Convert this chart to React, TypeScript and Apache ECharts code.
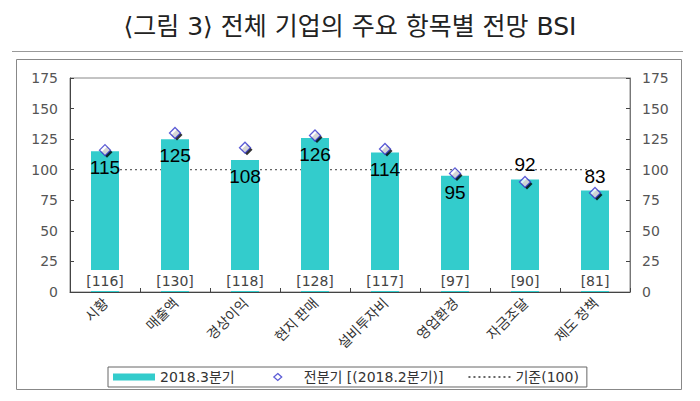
import React, { useEffect, useRef } from "react";
import * as echarts from "echarts";

const categories = ["시황", "매출액", "경상이익", "현지 판매", "설비투자비", "영업환경", "자금조달", "제도 정책"];
const currentQuarter = [115, 125, 108, 126, 114, 95, 92, 83];
const previousQuarter = [116, 130, 118, 128, 117, 97, 90, 81];
const baseline = [100, 100, 100, 100, 100, 100, 100, 100];
const valueLabelPlacement = ["insideTop", "insideTop", "insideTop", "insideTop", "insideTop", "insideTop", "top", "top"];
const yMin = 0;
const yMax = 175;
const yInterval = 25;

const seriesNames = ["2018.3분기", "전분기 [(2018.2분기)]", "기준(100)"];
const titleText = "⟨그림 3⟩ 전체 기업의 주요 항목별 전망 BSI";

const LATIN = "DejaVu Sans, Noto Sans CJK KR, sans-serif";
const CJK = "Noto Sans CJK KR, DejaVu Sans, sans-serif";

// legend icon: small diamond centred in a 42x7 slot (the moveTo points fix the slot box)
const legendDiamond = "path://M0,0 M42,7 M21,-0.5 L25.5,3.5 L21,7.5 L16.5,3.5 Z";

export default function App() {
  const ref = useRef<HTMLDivElement>(null);
  useEffect(() => {
    if (!ref.current) return;
    const chart = echarts.init(ref.current, null, { renderer: "svg" });
    const yAxisCommon = (position: "left" | "right") => ({
      type: "value",
      position,
      min: yMin,
      max: yMax,
      interval: yInterval,
      splitLine: { show: false },
      axisLine: { show: true, lineStyle: { color: position === "left" ? "#444" : "#777", width: 1 } },
      axisTick: { show: true, inside: true, length: 4, lineStyle: { color: "#444" } },
      axisLabel: { color: "#555", fontSize: 14, fontFamily: LATIN, margin: 12 },
    });
    chart.setOption({
      animation: false,
      title: {
        text: titleText,
        left: "center",
        top: 9,
        textStyle: { fontFamily: "DejaVu Sans, Noto Sans CJK KR, sans-serif", fontWeight: "normal", fontSize: 25, color: "#222" },
      },
      graphic: [
        { type: "line", shape: { x1: 12, y1: 51.5, x2: 683, y2: 51.5 }, style: { stroke: "#999", lineWidth: 1 } },
        { type: "rect", shape: { x: 16.5, y: 59.5, width: 665, height: 330 }, style: { stroke: "#888", fill: "none", lineWidth: 1 } },
      ],
      grid: {
        left: 70,
        right: 70,
        top: 78,
        bottom: 109,
        show: true,
        borderColor: "#888",
        borderWidth: 1,
        backgroundColor: "transparent",
      },
      legend: {
        left: 108,
        top: 367,
        padding: [3, 8, 3, 5],
        itemGap: 24,
        itemWidth: 42,
        itemHeight: 7,
        borderColor: "#666",
        borderWidth: 1,
        textStyle: { fontFamily: LATIN, fontSize: 14, color: "#333" },
        data: [
          { name: seriesNames[0], icon: "rect" },
          { name: seriesNames[1], icon: legendDiamond, itemStyle: { color: "#fff", borderColor: "#3333CC", borderWidth: 1.3 } },
          { name: seriesNames[2], itemStyle: { opacity: 0 } },
        ],
      },
      xAxis: {
        type: "category",
        data: categories,
        axisLine: { show: true, lineStyle: { color: "#444" } },
        axisTick: { show: true, inside: true, length: 4, lineStyle: { color: "#444" } },
        axisLabel: { rotate: 45, fontFamily: CJK, fontSize: 14, color: "#333", margin: 8, interval: 0 },
      },
      yAxis: [yAxisCommon("left"), yAxisCommon("right")],
      series: [
        {
          name: seriesNames[2],
          type: "line",
          data: baseline,
          symbol: "none",
          lineStyle: { color: "#666", width: 1.2, type: [2, 3] },
          itemStyle: { color: "#666" },
          z: 1,
        },
        {
          name: seriesNames[0],
          type: "bar",
          data: currentQuarter.map((v, i) => ({
            value: v,
            label: { position: valueLabelPlacement[i], distance: valueLabelPlacement[i] === "top" ? 5 : 7 },
          })),
          barWidth: 28,
          itemStyle: { color: "#33CCCC" },
          label: {
            show: true,
            color: "#000",
            fontSize: 19,
            fontFamily: "Liberation Sans, Arial, sans-serif",
          },
          z: 2,
        },
        {
          type: "bar",
          data: currentQuarter,
          barWidth: 28,
          barGap: "-100%",
          itemStyle: { color: "transparent" },
          silent: true,
          label: {
            show: true,
            position: "insideBottom",
            distance: 1,
            formatter: (p: any) => `[${previousQuarter[p.dataIndex]}]`,
            backgroundColor: "#fff",
            padding: [3, 3, 2, 3],
            lineHeight: 16,
            fontSize: 14,
            fontFamily: LATIN,
            color: "#444",
          },
          z: 3,
        },
        {
          type: "scatter",
          data: previousQuarter,
          symbol: "diamond",
          symbolSize: [11, 11],
          symbolOffset: [2, 2],
          itemStyle: { color: "#000" },
          silent: true,
          z: 4,
        },
        {
          name: seriesNames[1],
          type: "scatter",
          data: previousQuarter,
          symbol: "diamond",
          symbolSize: [11, 11],
          itemStyle: { color: "#fff", borderColor: "#3333CC", borderWidth: 1.3 },
          z: 5,
        },
      ],
    });
    return () => chart.dispose();
  }, []);
  return (
    <div
      ref={ref}
      style={{ position: "fixed", left: 0, top: 0, width: 700, height: 401, background: "#fff" }}
    />
  );
}
